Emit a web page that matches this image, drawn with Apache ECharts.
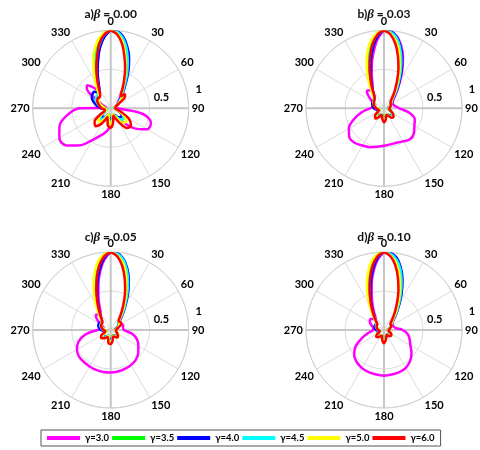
<!DOCTYPE html>
<html>
<head>
<meta charset="utf-8">
<script src="https://cdn.jsdelivr.net/npm/echarts@6/dist/echarts.min.js"></script>
<style>
  html, body { margin: 0; padding: 0; background: #fff; }
  #chart { width: 480px; height: 450px; }
</style>
</head>
<body>
<div id="chart"></div>
<script>
// Angles (degrees, clockwise from the top) shared by every pattern
const ANGLES = [0,5,10,15,20,25,30,35,40,45,50,
  60,70,80,90,100,110,120,130,140,150,160,170,180,190,200,210,220,230,240,250,260,270,280,290,300,310,
  315,320,325,330,335,340,345,350,355,360];

const GAMMA_NAMES = ['γ=3.0', 'γ=3.5', 'γ=4.0', 'γ=4.5', 'γ=5.0', 'γ=6.0'];
const GAMMA_COLORS = ['#ff00ff', '#00ff00', '#0000ff', '#00ffff', '#ffff00', '#ff0000'];
const PANEL_LABELS = ['a)', 'b)', 'c)', 'd)'];
const BETA_VALUES = ['0.00', '0.03', '0.05', '0.10'];
const ANGLE_TICKS = [0,30,60,90,120,150,180,210,240,270,300,330];
const RADIUS_TICKS = [0.5, 1];

// beta = 0.00
const A_G30 = [1.00,0.97,0.89,0.76,0.60,0.46,0.34,0.25,0.19,0.15,0.12,
  0.10,0.08,0.06,0.08,0.42,0.55,0.54,0.40,0.22,0.12,0.10,0.14,0.22,0.30,0.37,0.47,0.62,0.74,0.76,0.70,0.58,0.40,0.06,0.10,0.18,0.40,
  0.42,0.35,0.29,0.30,0.38,0.50,0.64,0.80,0.93,1.00];
const A_G35 = [1.00,0.97,0.88,0.74,0.59,0.45,0.34,0.26,0.21,0.20,0.16,
  0.10,0.08,0.06,0.05,0.07,0.11,0.17,0.21,0.19,0.11,0.08,0.12,0.17,0.13,0.08,0.14,0.20,0.17,0.09,0.05,0.05,0.07,0.10,0.14,0.19,0.22,
  0.22,0.24,0.28,0.36,0.48,0.62,0.76,0.88,0.97,1.00];
const A_G40 = [1.00,0.99,0.93,0.82,0.69,0.54,0.40,0.30,0.23,0.18,0.14,
  0.10,0.07,0.05,0.06,0.08,0.12,0.16,0.18,0.15,0.10,0.10,0.14,0.16,0.11,0.08,0.12,0.17,0.14,0.08,0.06,0.08,0.12,0.18,0.23,0.28,0.30,
  0.30,0.27,0.25,0.29,0.37,0.49,0.63,0.79,0.92,1.00];
const A_G45 = [1.00,0.98,0.91,0.79,0.64,0.50,0.37,0.28,0.22,0.19,0.15,
  0.10,0.07,0.05,0.06,0.08,0.12,0.18,0.22,0.18,0.11,0.10,0.15,0.19,0.13,0.08,0.13,0.20,0.17,0.08,0.05,0.06,0.10,0.14,0.18,0.22,0.24,
  0.24,0.24,0.26,0.32,0.42,0.55,0.70,0.83,0.95,1.00];
const A_G50 = [1.00,0.96,0.87,0.72,0.57,0.44,0.33,0.25,0.22,0.23,0.18,
  0.10,0.07,0.05,0.05,0.07,0.12,0.20,0.26,0.24,0.13,0.08,0.14,0.21,0.15,0.08,0.16,0.24,0.20,0.10,0.06,0.06,0.08,0.10,0.14,0.18,0.20,
  0.21,0.24,0.30,0.39,0.51,0.65,0.79,0.90,0.97,1.00];
const A_G60 = [1.00,0.95,0.84,0.68,0.54,0.41,0.31,0.23,0.20,0.26,0.24,
  0.12,0.07,0.06,0.06,0.08,0.15,0.27,0.34,0.33,0.20,0.10,0.18,0.25,0.22,0.12,0.22,0.30,0.27,0.15,0.08,0.08,0.12,0.14,0.17,0.20,0.21,
  0.20,0.21,0.24,0.31,0.41,0.54,0.68,0.84,0.95,1.00];

// beta = 0.03
const B_G30 = [1.00,0.99,0.94,0.84,0.71,0.56,0.42,0.31,0.23,0.18,0.15,
  0.13,0.13,0.15,0.20,0.33,0.42,0.45,0.50,0.52,0.49,0.47,0.47,0.48,0.50,0.53,0.55,0.58,0.58,0.52,0.41,0.29,0.18,0.12,0.12,0.18,0.27,
  0.31,0.30,0.28,0.29,0.35,0.46,0.60,0.75,0.90,1.00];
const B_G35 = [1.00,0.97,0.89,0.77,0.62,0.47,0.35,0.25,0.18,0.14,0.12,
  0.10,0.08,0.07,0.06,0.06,0.08,0.12,0.14,0.13,0.09,0.08,0.12,0.15,0.11,0.08,0.12,0.15,0.12,0.07,0.06,0.07,0.09,0.11,0.13,0.15,0.17,
  0.18,0.21,0.27,0.36,0.48,0.62,0.76,0.88,0.97,1.00];
const B_G40 = [1.00,0.99,0.93,0.82,0.68,0.53,0.39,0.29,0.21,0.15,0.12,
  0.10,0.08,0.06,0.06,0.07,0.09,0.12,0.13,0.12,0.09,0.09,0.12,0.14,0.10,0.08,0.10,0.13,0.11,0.07,0.08,0.10,0.13,0.15,0.16,0.17,0.17,
  0.17,0.19,0.23,0.30,0.39,0.51,0.65,0.80,0.93,1.00];
const B_G45 = [1.00,0.98,0.92,0.80,0.65,0.50,0.37,0.27,0.19,0.14,0.12,
  0.10,0.08,0.07,0.06,0.07,0.09,0.12,0.14,0.13,0.09,0.08,0.12,0.15,0.11,0.08,0.11,0.14,0.12,0.07,0.07,0.08,0.10,0.12,0.14,0.16,0.16,
  0.17,0.20,0.25,0.33,0.44,0.57,0.71,0.85,0.95,1.00];
const B_G50 = [1.00,0.96,0.88,0.75,0.59,0.45,0.33,0.24,0.17,0.14,0.12,
  0.10,0.08,0.07,0.06,0.07,0.09,0.13,0.16,0.15,0.10,0.08,0.13,0.17,0.12,0.08,0.13,0.17,0.13,0.07,0.06,0.07,0.09,0.11,0.13,0.15,0.17,
  0.18,0.22,0.29,0.39,0.51,0.65,0.79,0.90,0.97,1.00];
const B_G60 = [1.00,0.95,0.84,0.69,0.54,0.40,0.29,0.21,0.15,0.12,0.11,
  0.10,0.09,0.08,0.07,0.07,0.09,0.13,0.16,0.16,0.11,0.09,0.14,0.18,0.13,0.09,0.13,0.17,0.15,0.09,0.07,0.08,0.10,0.12,0.14,0.15,0.16,
  0.17,0.19,0.23,0.31,0.41,0.54,0.69,0.84,0.95,1.00];

// beta = 0.05
const C_G30 = [1.00,0.98,0.92,0.80,0.66,0.51,0.38,0.28,0.21,0.17,0.15,
  0.15,0.17,0.16,0.17,0.28,0.36,0.41,0.46,0.50,0.52,0.53,0.54,0.545,0.547,0.545,0.54,0.535,0.53,0.50,0.44,0.33,0.17,0.10,0.10,0.16,0.24,
  0.27,0.26,0.23,0.26,0.34,0.46,0.61,0.77,0.91,1.00];
const C_G35 = [1.00,0.97,0.89,0.77,0.62,0.47,0.35,0.25,0.18,0.14,0.13,
  0.12,0.09,0.07,0.06,0.06,0.08,0.10,0.12,0.11,0.08,0.08,0.12,0.15,0.12,0.08,0.10,0.13,0.14,0.10,0.06,0.06,0.08,0.10,0.12,0.14,0.15,
  0.16,0.20,0.26,0.35,0.47,0.61,0.75,0.88,0.97,1.00];
const C_G40 = [1.00,0.99,0.93,0.82,0.68,0.53,0.39,0.29,0.21,0.16,0.13,
  0.11,0.08,0.06,0.06,0.06,0.08,0.10,0.11,0.10,0.08,0.08,0.11,0.13,0.11,0.08,0.09,0.12,0.13,0.10,0.08,0.09,0.12,0.15,0.17,0.17,0.16,
  0.16,0.18,0.23,0.30,0.39,0.51,0.65,0.80,0.93,1.00];
const C_G45 = [1.00,0.98,0.92,0.80,0.65,0.50,0.37,0.27,0.19,0.15,0.13,
  0.12,0.09,0.07,0.06,0.06,0.08,0.10,0.12,0.11,0.08,0.08,0.12,0.14,0.12,0.08,0.10,0.13,0.14,0.10,0.07,0.07,0.10,0.12,0.14,0.15,0.15,
  0.16,0.19,0.25,0.33,0.44,0.57,0.71,0.85,0.95,1.00];
const C_G50 = [1.00,0.96,0.88,0.75,0.59,0.45,0.33,0.24,0.18,0.15,0.14,
  0.13,0.09,0.07,0.06,0.06,0.08,0.11,0.13,0.12,0.09,0.08,0.13,0.16,0.13,0.08,0.11,0.14,0.15,0.11,0.06,0.06,0.08,0.10,0.12,0.14,0.15,
  0.16,0.21,0.28,0.38,0.50,0.64,0.78,0.90,0.97,1.00];
const C_G60 = [1.00,0.95,0.84,0.69,0.54,0.40,0.29,0.21,0.16,0.15,0.16,
  0.16,0.11,0.08,0.07,0.07,0.08,0.10,0.12,0.125,0.10,0.09,0.14,0.18,0.17,0.10,0.11,0.14,0.16,0.14,0.08,0.07,0.09,0.11,0.13,0.14,0.14,
  0.15,0.18,0.23,0.31,0.41,0.54,0.69,0.84,0.95,1.00];

// beta = 0.10
const D_G30 = [1.00,0.99,0.93,0.82,0.68,0.53,0.40,0.29,0.22,0.17,0.14,
  0.13,0.13,0.15,0.24,0.31,0.35,0.39,0.46,0.52,0.56,0.575,0.58,0.585,0.58,0.575,0.565,0.54,0.50,0.42,0.30,0.20,0.14,0.14,0.17,0.21,0.22,
  0.20,0.18,0.19,0.25,0.34,0.46,0.61,0.77,0.91,1.00];
const D_G35 = [1.00,0.97,0.89,0.77,0.62,0.47,0.35,0.25,0.18,0.14,0.12,
  0.10,0.08,0.06,0.05,0.05,0.07,0.09,0.10,0.09,0.07,0.08,0.11,0.14,0.11,0.07,0.08,0.10,0.11,0.09,0.06,0.06,0.07,0.08,0.10,0.11,0.12,
  0.14,0.18,0.25,0.34,0.46,0.60,0.75,0.88,0.97,1.00];
const D_G40 = [1.00,0.99,0.94,0.83,0.69,0.54,0.40,0.29,0.21,0.15,0.12,
  0.10,0.08,0.06,0.05,0.05,0.07,0.09,0.10,0.09,0.07,0.08,0.11,0.14,0.11,0.07,0.08,0.10,0.11,0.09,0.07,0.08,0.10,0.12,0.13,0.13,0.13,
  0.14,0.17,0.22,0.29,0.39,0.51,0.65,0.80,0.93,1.00];
const D_G45 = [1.00,0.98,0.92,0.81,0.66,0.51,0.38,0.28,0.20,0.15,0.12,
  0.10,0.08,0.06,0.05,0.05,0.07,0.09,0.10,0.09,0.07,0.08,0.11,0.14,0.11,0.07,0.08,0.10,0.11,0.09,0.06,0.07,0.08,0.09,0.11,0.12,0.12,
  0.14,0.17,0.24,0.32,0.43,0.56,0.71,0.85,0.95,1.00];
const D_G50 = [1.00,0.96,0.88,0.75,0.60,0.46,0.34,0.25,0.18,0.14,0.12,
  0.10,0.08,0.06,0.05,0.05,0.07,0.10,0.11,0.10,0.07,0.08,0.12,0.15,0.12,0.07,0.08,0.11,0.12,0.10,0.06,0.06,0.07,0.08,0.10,0.11,0.12,
  0.14,0.19,0.27,0.37,0.50,0.64,0.78,0.90,0.97,1.00];
const D_G60 = [1.00,0.95,0.84,0.69,0.54,0.40,0.29,0.21,0.15,0.12,0.11,
  0.11,0.09,0.07,0.06,0.06,0.08,0.11,0.12,0.10,0.07,0.09,0.13,0.17,0.13,0.08,0.09,0.12,0.13,0.10,0.06,0.06,0.07,0.09,0.10,0.11,0.11,
  0.13,0.17,0.23,0.31,0.41,0.54,0.69,0.84,0.95,1.00];

const PANEL_SERIES = [
  [A_G30, A_G35, A_G40, A_G45, A_G50, A_G60],
  [B_G30, B_G35, B_G40, B_G45, B_G50, B_G60],
  [C_G30, C_G35, C_G40, C_G45, C_G50, C_G60],
  [D_G30, D_G35, D_G40, D_G45, D_G50, D_G60]
];

// Layout of the four polar plots
const CENTERS = [[110.7, 108.3], [384, 108.3], [110.7, 330], [384, 330]];
const PLOT_RADIUS = 78;
const TITLE_TOPS = [8, 8, 231, 231];

const FONT = 'Lato, "Open Sans", sans-serif';
const GRID_COLOR = '#dcdcdc';

const polar = [], angleAxis = [], radiusAxis = [], series = [], title = [];

CENTERS.forEach((c, p) => {
  const base = p * 3;
  // main plot: rings, 30 degree spokes, angle labels
  polar.push({ center: c, radius: PLOT_RADIUS });
  angleAxis.push({
    polarIndex: base, type: 'value', min: 0, max: 360, interval: 30,
    startAngle: 90, clockwise: true,
    axisLine: { show: true, lineStyle: { color: '#d0d0d0', width: 1 } },
    axisTick: { show: false },
    axisLabel: {
      margin: 3, color: '#000', fontWeight: 'bold', fontSize: 11, fontFamily: FONT,
      customValues: ANGLE_TICKS, formatter: v => String(v)
    },
    splitLine: { show: true, lineStyle: { color: GRID_COLOR, width: 1 } }
  });
  radiusAxis.push({
    polarIndex: base, type: 'value', min: 0, max: 1, interval: 0.5,
    axisLine: { show: false }, axisTick: { show: false }, axisLabel: { show: false },
    splitLine: { show: true, lineStyle: { color: GRID_COLOR, width: 1 } }
  });

  // heavier cross through the centre (0/90/180/270)
  polar.push({ center: c, radius: PLOT_RADIUS });
  angleAxis.push({
    polarIndex: base + 1, type: 'value', min: 0, max: 360, interval: 90,
    startAngle: 90, clockwise: true,
    axisLine: { show: false }, axisTick: { show: false }, axisLabel: { show: false },
    splitLine: { show: true, lineStyle: { color: '#c6c6c6', width: 2 } }
  });
  radiusAxis.push({
    polarIndex: base + 1, type: 'value', min: 0, max: 1, show: false
  });

  // radius labels placed along a slanted ray on the right
  polar.push({ center: c, radius: 90 });
  angleAxis.push({
    polarIndex: base + 2, type: 'value', min: 0, max: 360, startAngle: 12, show: false
  });
  radiusAxis.push({
    polarIndex: base + 2, type: 'value', min: -0.18, max: 1,
    axisLine: { show: false }, axisTick: { show: false }, splitLine: { show: false },
    axisLabel: {
      show: true, customValues: RADIUS_TICKS, margin: 0, align: 'center', verticalAlign: 'middle',
      color: '#000', fontWeight: 'bold', fontSize: 11, fontFamily: FONT,
      formatter: v => String(v)
    }
  });

  PANEL_SERIES[p].forEach((vals, k) => {
    series.push({
      type: 'line', name: GAMMA_NAMES[k], coordinateSystem: 'polar', polarIndex: base,
      data: ANGLES.map((a, i) => [vals[i], a]),
      smooth: 0.35, symbol: 'none', showSymbol: false,
      lineStyle: { color: GAMMA_COLORS[k], width: 2.5 },
      itemStyle: { color: GAMMA_COLORS[k] },
      z: 3 + k
    });
  });

  title.push({
    text: '{t|' + PANEL_LABELS[p] + '}{g|β}{t| = ' + BETA_VALUES[p] + '}',
    left: c[0], top: TITLE_TOPS[p], textAlign: 'center', padding: 0, z: 10,
    textStyle: {
      rich: {
        t: { fontFamily: FONT, fontSize: 12, color: '#111' },
        g: { fontFamily: '"Liberation Serif", serif', fontStyle: 'italic', fontSize: 13, color: '#111' }
      }
    }
  });
});

const chart = echarts.init(document.getElementById('chart'), null, { renderer: 'canvas' });
chart.setOption({
  animation: false,
  backgroundColor: '#fff',
  title: title,
  polar: polar,
  angleAxis: angleAxis,
  radiusAxis: radiusAxis,
  legend: {
    data: GAMMA_NAMES, left: 41, top: 430, orient: 'horizontal',
    icon: 'rect', itemWidth: 33, itemHeight: 4, itemGap: 3,
    padding: [3, 6, 3, 6], borderColor: '#555', borderWidth: 1, borderRadius: 0,
    textStyle: { fontSize: 9.5, fontWeight: 'bold', fontFamily: FONT, color: '#000' }
  },
  series: series
});
</script>
</body>
</html>
